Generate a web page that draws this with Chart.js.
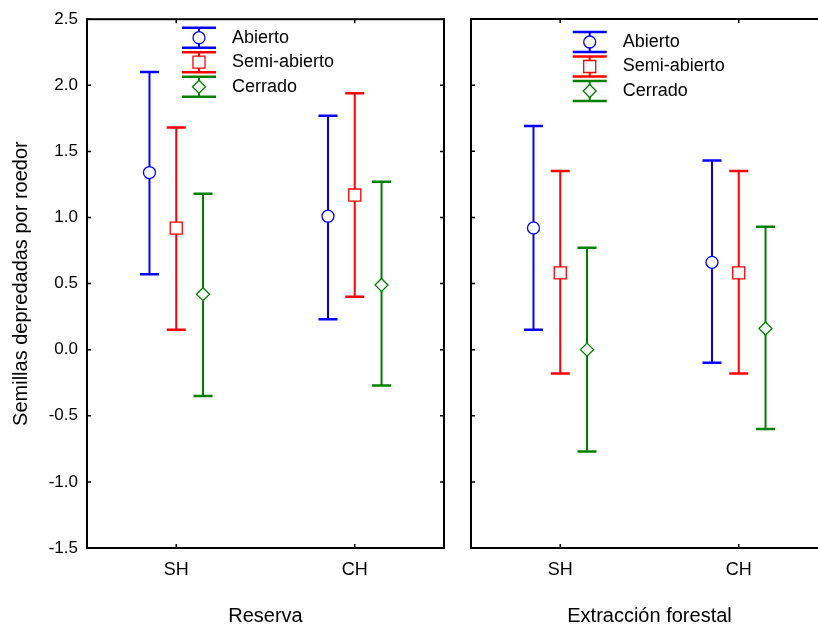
<!DOCTYPE html>
<html>
<head>
<meta charset="utf-8">
<script src="https://cdn.jsdelivr.net/npm/chart.js@4/dist/chart.umd.min.js"></script>
<style>
  html, body { margin: 0; padding: 0; background: #fff; overflow: hidden; width: 818px; height: 628px; }
  canvas { position: absolute; top: 0; }
  #left { left: 0; }
  #right { left: 455px; }
</style>
</head>
<body>
<canvas id="left" width="460" height="628"></canvas>
<canvas id="right" width="390" height="628"></canvas>
<script>
// ---- data ----
const categories = ['SH', 'CH'];
const seriesNames = ['Abierto', 'Semi-abierto', 'Cerrado'];
const panelTitles = ['Reserva', 'Extracción forestal'];
const yAxisTitle = 'Semillas depredadas por roedor';
const yTicks = [-1.5, -1.0, -0.5, 0.0, 0.5, 1.0, 1.5, 2.0, 2.5];

// Reserva
const reservaAbiertoMean  = [1.34, 1.01];
const reservaAbiertoLow   = [0.57, 0.23];
const reservaAbiertoHigh  = [2.10, 1.77];
const reservaSemiMean     = [0.92, 1.17];
const reservaSemiLow      = [0.15, 0.40];
const reservaSemiHigh     = [1.68, 1.94];
const reservaCerradoMean  = [0.42, 0.49];
const reservaCerradoLow   = [-0.35, -0.27];
const reservaCerradoHigh  = [1.18, 1.27];

// Extracción forestal
const extraccionAbiertoMean = [0.92, 0.66];
const extraccionAbiertoLow  = [0.15, -0.10];
const extraccionAbiertoHigh = [1.69, 1.43];
const extraccionSemiMean    = [0.58, 0.58];
const extraccionSemiLow     = [-0.18, -0.18];
const extraccionSemiHigh    = [1.35, 1.35];
const extraccionCerradoMean = [0.00, 0.16];
const extraccionCerradoLow  = [-0.77, -0.60];
const extraccionCerradoHigh = [0.77, 0.93];

// ---- styles ----
const FONT = "'Liberation Sans', Arial, sans-serif";
const colors = ['#0000ff', '#ff0000', '#008000'];
const pointStyles = ['circle', 'rect', 'rectRot'];
const pointRadii = [6, 8.5, 6.5];
const xOffsets = [-0.15, 0, 0.15];

function buildDatasets(means, lows, highs) {
  return seriesNames.map((name, s) => ({
    label: name,
    data: means[s].map((v, i) => ({ x: i + xOffsets[s], y: v })),
    lower: lows[s],
    upper: highs[s],
    borderColor: colors[s],
    backgroundColor: '#ffffff',
    pointStyle: pointStyles[s],
    pointRadius: pointRadii[s],
    pointHoverRadius: pointRadii[s],
    pointBorderWidth: 1.3,
    showLine: false
  }));
}

const errBarPlugin = {
  id: 'errBars',
  beforeDatasetsDraw(chart) {
    const ctx = chart.ctx, ys = chart.scales.y;
    chart.data.datasets.forEach((ds, di) => {
      const meta = chart.getDatasetMeta(di);
      meta.data.forEach((pt, i) => {
        const hi = ys.getPixelForValue(ds.upper[i]);
        const lo = ys.getPixelForValue(ds.lower[i]);
        ctx.save();
        ctx.strokeStyle = ds.borderColor;
        ctx.lineWidth = 2;
        ctx.beginPath(); ctx.moveTo(pt.x, hi); ctx.lineTo(pt.x, lo); ctx.stroke();
        ctx.lineWidth = 2.5;
        ctx.beginPath();
        ctx.moveTo(pt.x - 9.5, hi); ctx.lineTo(pt.x + 9.5, hi);
        ctx.moveTo(pt.x - 9.5, lo); ctx.lineTo(pt.x + 9.5, lo);
        ctx.stroke();
        ctx.restore();
      });
    });
  }
};

const framePlugin = {
  id: 'frameTicks',
  afterDraw(chart, args, opts) {
    const ctx = chart.ctx, a = chart.chartArea;
    const xs = chart.scales.x, ys = chart.scales.y;
    ctx.save();
    ctx.strokeStyle = '#000';
    ctx.lineWidth = 2;
    ctx.strokeRect(a.left, a.top, a.right - a.left, a.bottom - a.top);
    ctx.lineWidth = 1.5;
    ctx.beginPath();
    ys.ticks.forEach(t => {
      const py = ys.getPixelForValue(t.value);
      ctx.moveTo(a.left, py); ctx.lineTo(a.left + 4, py);
      ctx.moveTo(a.right, py); ctx.lineTo(a.right - 4, py);
    });
    xs.ticks.forEach(t => {
      const px = xs.getPixelForValue(t.value);
      ctx.moveTo(px, a.top); ctx.lineTo(px, a.top + 4);
      ctx.moveTo(px, a.bottom); ctx.lineTo(px, a.bottom - 4);
    });
    ctx.stroke();

    // legend
    const lx = a.left + opts.offX;
    chart.data.datasets.forEach((ds, i) => {
      const cy = a.top + opts.offY + i * 24.5;
      ctx.strokeStyle = ds.borderColor;
      ctx.lineWidth = 2;
      ctx.beginPath(); ctx.moveTo(lx, cy - 10); ctx.lineTo(lx, cy + 10); ctx.stroke();
      ctx.lineWidth = 2.5;
      ctx.beginPath();
      ctx.moveTo(lx - 17, cy - 10); ctx.lineTo(lx + 17, cy - 10);
      ctx.moveTo(lx - 17, cy + 10); ctx.lineTo(lx + 17, cy + 10);
      ctx.stroke();
      ctx.fillStyle = '#ffffff';
      ctx.lineWidth = 1.3;
      Chart.helpers.drawPoint(ctx, { pointStyle: ds.pointStyle, radius: ds.pointRadius, borderWidth: 1.3, rotation: 0 }, lx, cy);
      ctx.fillStyle = '#000';
      ctx.font = '18px ' + FONT;
      ctx.textAlign = 'left';
      ctx.textBaseline = 'middle';
      ctx.fillText(ds.label, lx + 33, cy);
    });
    ctx.restore();
  }
};

function makeChart(id, datasets, title, showY, padding, legendOff) {
  return new Chart(document.getElementById(id), {
    type: 'scatter',
    data: { datasets },
    options: {
      responsive: false,
      animation: false,
      devicePixelRatio: 1,
      layout: { padding },
      plugins: { legend: { display: false }, tooltip: { enabled: false }, frameTicks: legendOff },
      scales: {
        x: {
          type: 'linear', min: -0.5, max: 1.5,
          grid: { display: false, drawTicks: false },
          border: { display: false },
          afterBuildTicks: s => { s.ticks = categories.map((c, i) => ({ value: i })); },
          afterFit: s => { s.height = 80; },
          ticks: {
            autoSkip: false, maxRotation: 0, padding: 11, color: '#000',
            font: { family: FONT, size: 18 },
            callback: (v, i) => categories[i]
          },
          title: { display: true, text: title, color: '#000', font: { family: FONT, size: 20 }, padding: { top: 0, bottom: 0 } }
        },
        y: {
          display: showY,
          min: -1.5, max: 2.5,
          grid: { display: false, drawTicks: false },
          border: { display: false },
          afterBuildTicks: s => { s.ticks = yTicks.map(v => ({ value: v })); },
          afterFit: s => { s.width = showY ? 87 : 0; },
          ticks: {
            padding: 9, color: '#000',
            font: { family: FONT, size: 17 },
            callback: v => v.toFixed(1)
          },
          title: { display: true, text: yAxisTitle, color: '#000', font: { family: FONT, size: 20 }, padding: { top: 9, bottom: 0 } }
        }
      }
    },
    plugins: [errBarPlugin, framePlugin]
  });
}

makeChart('left',
  buildDatasets([reservaAbiertoMean, reservaSemiMean, reservaCerradoMean],
                [reservaAbiertoLow, reservaSemiLow, reservaCerradoLow],
                [reservaAbiertoHigh, reservaSemiHigh, reservaCerradoHigh]),
  panelTitles[0], true, { left: 0, right: 16, top: 19, bottom: 0 }, { offX: 112, offY: 18.5 });

makeChart('right',
  buildDatasets([extraccionAbiertoMean, extraccionSemiMean, extraccionCerradoMean],
                [extraccionAbiertoLow, extraccionSemiLow, extraccionCerradoLow],
                [extraccionAbiertoHigh, extraccionSemiHigh, extraccionCerradoHigh]),
  panelTitles[1], false, { left: 16, right: 17, top: 19, bottom: 0 }, { offX: 118.7, offY: 23 });
</script>
</body>
</html>
